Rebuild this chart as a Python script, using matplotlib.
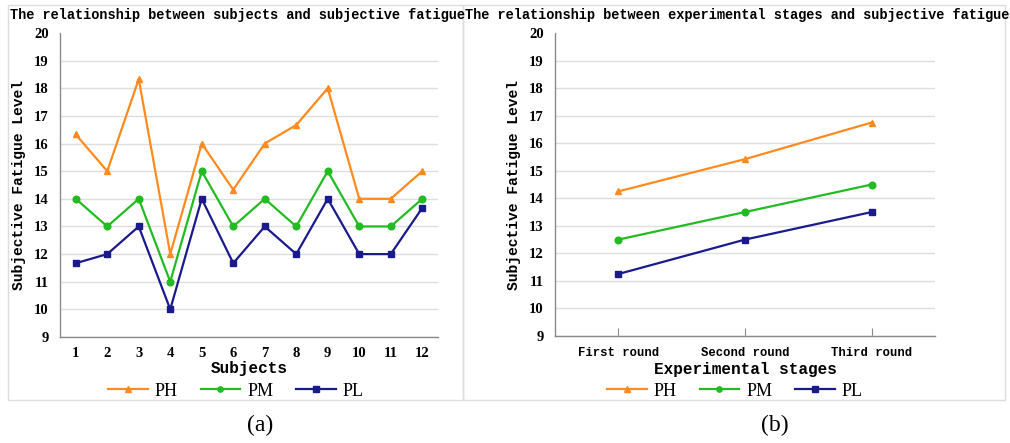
import matplotlib
matplotlib.use("Agg")
import matplotlib.pyplot as plt
from matplotlib.patches import Rectangle

subjects = [1, 2, 3, 4, 5, 6, 7, 8, 9, 10, 11, 12]
ph_subj = [16.33, 15.0, 18.33, 12.0, 16.0, 14.33, 16.0, 16.67, 18.0, 14.0, 14.0, 15.0]
pm_subj = [14.0, 13.0, 14.0, 11.0, 15.0, 13.0, 14.0, 13.0, 15.0, 13.0, 13.0, 14.0]
pl_subj = [11.67, 12.0, 13.0, 10.0, 14.0, 11.67, 13.0, 12.0, 14.0, 12.0, 12.0, 13.67]

stages = ["First round", "Second round", "Third round"]
ph_stage = [14.25, 15.42, 16.75]
pm_stage = [12.5, 13.5, 14.5]
pl_stage = [11.25, 12.5, 13.5]

series_names = ["PH", "PM", "PL"]
colors = ["#FF8A1F", "#22BB22", "#1A1A8C"]
markers = ["^", "o", "s"]
yticks = list(range(9, 21))

W, H = 1010, 443
fig = plt.figure(figsize=(W / 100, H / 100), dpi=100)

def fx(px):
    return px / W

def fy(py):
    return 1 - py / H

mono = "Liberation Mono"
serif = "Liberation Serif"

# panel frames
for (x0, x1) in [(8, 463), (463, 1005)]:
    fig.patches.append(Rectangle((fx(x0), fy(400)), fx(x1) - fx(x0), fy(5) - fy(400),
                                 transform=fig.transFigure, fill=False,
                                 edgecolor="#dddddd", linewidth=1.0))

def style_axes(ax):
    ax.set_ylim(9, 20)
    ax.set_yticks(yticks)
    ax.set_yticklabels([str(t) for t in yticks], fontfamily=serif,
                       fontweight="bold", fontsize=10.5)
    ax.yaxis.grid(True, color="#dedede", linewidth=1.0)
    ax.get_ygridlines()[-1].set_visible(False)
    ax.set_axisbelow(True)
    for s in ["top", "right"]:
        ax.spines[s].set_visible(False)
    for s in ["left", "bottom"]:
        ax.spines[s].set_color("#8a8a8a")
        ax.spines[s].set_linewidth(1.0)
    ax.tick_params(axis="y", length=0, pad=8)
    ax.set_ylabel("Subjective Fatigue Level", fontfamily=mono, fontweight="bold",
                  fontsize=10.5, labelpad=6)

def add_legend(ax, cx):
    ax.legend(loc="center", bbox_to_anchor=(fx(cx), fy(391)), bbox_transform=fig.transFigure,
              ncol=3, frameon=False, prop={"family": serif, "size": 13},
              handlelength=2.2, handletextpad=0.4, columnspacing=1.25, borderpad=0,
              markerscale=0.8)

# Left panel
ax1 = fig.add_axes([fx(60), fy(337), fx(438) - fx(60), fy(33) - fy(337)])
for vals, name, c, m in zip([ph_subj, pm_subj, pl_subj], series_names, colors, markers):
    ax1.plot(subjects, vals, color=c, marker=m, markersize=4.8, linewidth=1.6, label=name)
style_axes(ax1)
ax1.set_xlim(0.5, 12.5)
ax1.set_xticks(subjects)
ax1.set_xticklabels([str(s) for s in subjects], fontfamily=serif, fontweight="bold", fontsize=10.5)
ax1.tick_params(axis="x", length=0, pad=7)
ax1.set_xlabel("Subjects", fontfamily=mono, fontweight="bold", fontsize=11.5, labelpad=1)
fig.text(fx(10), fy(15), "The relationship between subjects and subjective fatigue",
         fontfamily=mono, fontweight="bold", fontsize=9.8, va="center", ha="left")
add_legend(ax1, 236)

# Right panel
ax2 = fig.add_axes([fx(555), fy(336), fx(935) - fx(555), fy(33) - fy(336)])
xs = list(range(len(stages)))
for vals, name, c, m in zip([ph_stage, pm_stage, pl_stage], series_names, colors, markers):
    ax2.plot(xs, vals, color=c, marker=m, markersize=4.8, linewidth=1.6, label=name)
style_axes(ax2)
ax2.set_xlim(-0.5, len(stages) - 0.5)
ax2.set_xticks(xs)
ax2.set_xticklabels(stages, fontfamily=mono, fontweight="bold", fontsize=8.8)
ax2.tick_params(axis="x", length=6, direction="in", color="#8a8a8a", pad=8)
ax2.set_xlabel("Experimental stages", fontfamily=mono, fontweight="bold", fontsize=11.5, labelpad=2)
fig.text(fx(465), fy(15), "The relationship between experimental stages and subjective fatigue",
         fontfamily=mono, fontweight="bold", fontsize=9.8, va="center", ha="left")
add_legend(ax2, 735)

fig.text(fx(260), fy(425), "(a)", fontfamily=serif, fontsize=17, ha="center", va="center")
fig.text(fx(775), fy(425), "(b)", fontfamily=serif, fontsize=17, ha="center", va="center")

fig.savefig("out.png", dpi=100)
